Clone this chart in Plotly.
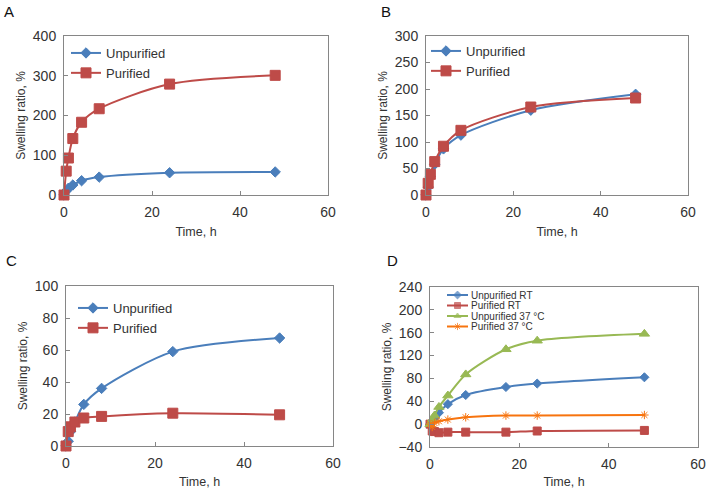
import plotly.graph_objects as go

# ---- data ----
t_abc = [0, 0.5, 1, 2, 4, 8, 24, 48]
t_d = [0, 0.5, 1, 2, 4, 8, 17, 24, 48]

a_unpurified = [0, 10, 17, 25, 36, 45, 56, 58]
a_purified = [0, 60, 93, 142, 183, 217, 279, 301]

b_unpurified = [0, 15, 35, 58, 87, 113, 160, 190]
b_purified = [0, 22, 39, 63, 92, 122, 166, 183]

c_unpurified = [0, 3, 9, 15, 26, 36, 59, 67.5]
c_purified = [0, 9, 12, 15, 17.5, 18.5, 20.5, 19.5]

d_unpurified_rt = [0, 5, 10, 20, 35, 51, 65, 71, 82]
d_purified_rt = [0, -12, -13, -15, -14, -14, -14, -12, -11]
d_unpurified_37 = [0, 8, 15, 30, 50, 87, 131, 146, 158]
d_purified_37 = [0, -5, 2, 5, 8, 12, 15, 15, 16]

panel_letters = ["A", "B", "C", "D"]
d_names = ["Unpurified RT", "Purified RT", "Unpurified 37 °C", "Purified 37 °C"]

BLUE = "#4A7EBB"
RED = "#BE4B48"
GREEN = "#98B954"
ORANGE = "#F7740F"
FONT = "Liberation Sans, Arial, sans-serif"
TXT = "#333333"

W, H = 711, 489

def px_x(p):
    return p / W

def px_y(p):
    return 1 - p / H

fig = go.Figure()

def line(x, y, name, color, symbol, size, xa, ya, legend="legend", width=2, showlegend=True):
    fig.add_trace(go.Scatter(
        x=x, y=y, name=name, mode="lines+markers", cliponaxis=False,
        line=dict(color=color, width=width, shape="spline", smoothing=0.8),
        marker=dict(color=color, symbol=symbol, size=size,
                    line=dict(color=color, width=1)),
        xaxis=xa, yaxis=ya, legend=legend, showlegend=showlegend,
    ))

line(t_abc, a_unpurified, "Unpurified", BLUE, "diamond", 8, "x", "y", "legend")
line(t_abc, a_purified, "Purified", RED, "square", 10, "x", "y", "legend")
line(t_abc, b_unpurified, "Unpurified", BLUE, "diamond", 8, "x2", "y2", "legend2")
line(t_abc, b_purified, "Purified", RED, "square", 10, "x2", "y2", "legend2")
line(t_abc, c_unpurified, "Unpurified", BLUE, "diamond", 8, "x3", "y3", "legend3")
line(t_abc, c_purified, "Purified", RED, "square", 10, "x3", "y3", "legend3")

d_series = [d_unpurified_rt, d_purified_rt, d_unpurified_37, d_purified_37]
d_colors = [BLUE, RED, GREEN, ORANGE]
d_symbols = ["diamond", "square", "triangle-up", "asterisk-open"]
d_sizes = [7, 8, 9, 7]
for vals, nm, col, sym, sz in zip(d_series, d_names, d_colors, d_symbols, d_sizes):
    line(t_d, vals, nm, col, sym, sz, "x4", "y4", showlegend=False)

# compact legend for panel D (decoration drawn on a pixel-space overlay axis)
leg_rows = [295, 305.5, 316, 326.5]
for nm, col, sym, ry in zip(d_names, d_colors, d_symbols, leg_rows):
    fig.add_trace(go.Scatter(
        x=[447, 457.5, 468], y=[ry, ry, ry], mode="lines+markers", showlegend=False,
        line=dict(color=col, width=2), hoverinfo="skip", cliponaxis=False,
        marker=dict(color=col, symbol=sym, size=[0, 6, 0], line=dict(color=col, width=1)),
        xaxis="x5", yaxis="y5",
    ))
    fig.add_annotation(text=nm, x=469, y=ry, xref="x5", yref="y5", xanchor="left",
                       yanchor="middle", showarrow=False,
                       font=dict(size=10, family=FONT, color=TXT))

axis_common = dict(
    showline=True, linecolor="#868686", linewidth=1, mirror=True,
    ticks="inside", ticklen=4, tickcolor="#868686", showgrid=False,
    zeroline=False, automargin=False, ticklabelstandoff=4,
    tickfont=dict(size=14, color=TXT, family=FONT),
    title_font=dict(size=12.5, color=TXT, family=FONT),
)

domains = {
    "A": ([px_x(64), px_x(328)], [px_y(195), px_y(36)]),
    "B": ([px_x(426), px_x(688)], [px_y(195), px_y(36)]),
    "C": ([px_x(66), px_x(333)], [px_y(446), px_y(286)]),
    "D": ([px_x(430), px_x(698)], [px_y(447), px_y(287)]),
}
yranges = {"A": (0, 400, 100), "B": (0, 300, 50), "C": (0, 100, 20), "D": (-40, 240, 40)}

layout = dict(
    width=W, height=H, margin=dict(l=0, r=0, t=0, b=0),
    paper_bgcolor="white", plot_bgcolor="rgba(0,0,0,0)",
    font=dict(family=FONT, color=TXT),
)
for i, key in enumerate(panel_letters):
    sfx = "" if i == 0 else str(i + 1)
    xd, yd = domains[key]
    y0, y1, dt = yranges[key]
    layout["xaxis" + sfx] = dict(axis_common, domain=xd, range=[0, 60], dtick=20,
                                 anchor="y" + sfx, title=dict(text="Time, h", standoff=8))
    layout["yaxis" + sfx] = dict(axis_common, domain=yd, range=[y0, y1], dtick=dt,
                                 anchor="x" + sfx,
                                 title=dict(text="Swelling ratio, %", standoff=4,
                                            font=dict(size=12, color=TXT, family=FONT)))

layout["xaxis5"] = dict(domain=[0, 1], range=[0, W], visible=False, anchor="y5",
                        fixedrange=True, automargin=False)
layout["yaxis5"] = dict(domain=[0, 1], range=[H, 0], visible=False, anchor="x5",
                        fixedrange=True, automargin=False)

leg_common = dict(bgcolor="rgba(0,0,0,0)", borderwidth=0, xanchor="left", yanchor="top",
                  font=dict(size=13, family=FONT, color=TXT), itemwidth=30,
                  tracegroupgap=2)
layout["legend"] = dict(leg_common, x=px_x(66), y=px_y(38))
layout["legend2"] = dict(leg_common, x=px_x(426), y=px_y(36))
layout["legend3"] = dict(leg_common, x=px_x(73), y=px_y(293))

fig.update_layout(**layout)

letter_pos = {"A": (9, 11), "B": (386, 11), "C": (12, 260), "D": (392, 260)}
for key, (lx, ly) in letter_pos.items():
    fig.add_annotation(text=key, x=px_x(lx), y=px_y(ly), xref="paper", yref="paper",
                       xanchor="center", yanchor="middle",
                       showarrow=False, font=dict(size=15, family=FONT, color="#111"))

fig.write_html("out.html", config={"displayModeBar": False},
               post_script="document.body.style.margin='0px';")
